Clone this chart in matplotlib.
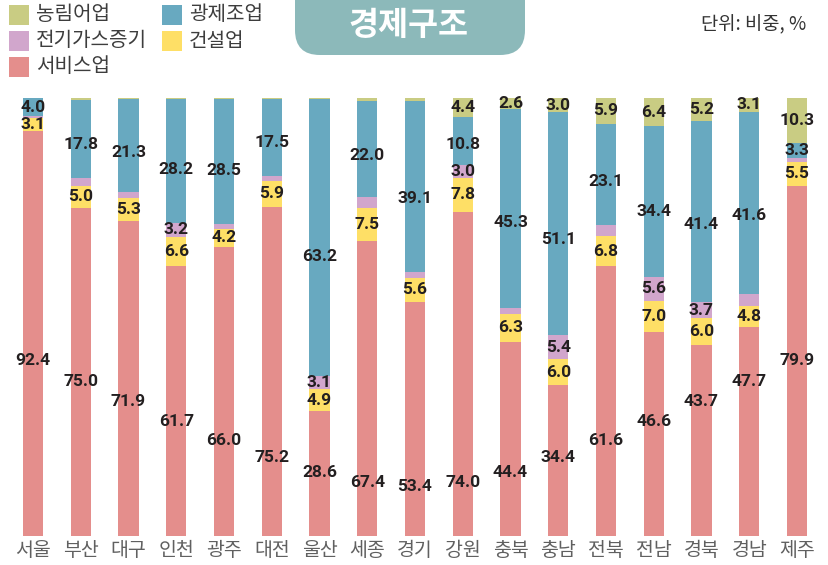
import matplotlib
matplotlib.use("Agg")
import matplotlib.pyplot as plt
from matplotlib.patches import Rectangle, FancyBboxPatch
import numpy as np

# ---------------- data ----------------
regions = ["서울", "부산", "대구", "인천", "광주", "대전", "울산", "세종", "경기",
           "강원", "충북", "충남", "전북", "전남", "경북", "경남", "제주"]
service = [92.4, 75.0, 71.9, 61.7, 66.0, 75.2, 28.6, 67.4, 53.4,
           74.0, 44.4, 34.4, 61.6, 46.6, 43.7, 47.7, 79.9]
construction = [3.1, 5.0, 5.3, 6.6, 4.2, 5.9, 4.9, 7.5, 5.6,
                7.8, 6.3, 6.0, 6.8, 7.0, 6.0, 4.8, 5.5]
utilities = [0.4, 1.8, 1.3, 3.2, 1.1, 1.2, 3.1, 2.5, 1.2,
             3.0, 1.4, 5.4, 2.6, 5.6, 3.7, 2.8, 1.0]
manufacturing = [4.0, 17.8, 21.3, 28.2, 28.5, 17.5, 63.2, 22.0, 39.1,
                 10.8, 45.3, 51.1, 23.1, 34.4, 41.4, 41.6, 3.3]
agriculture = [0.1, 0.4, 0.2, 0.3, 0.2, 0.2, 0.2, 0.6, 0.7,
               4.4, 2.6, 3.0, 5.9, 6.4, 5.2, 3.1, 10.3]
series_names = ["서비스업", "건설업", "전기가스증기", "광제조업", "농림어업"]
title = "경제구조"
unit_text = "단위: 비중, %"

# ---------------- style ----------------
colors = {"서비스업": "#e48e8c", "건설업": "#fedf66", "전기가스증기": "#d1a6cc",
          "광제조업": "#68a9c0", "농림어업": "#c9cc83"}
label_threshold = {"서비스업": 0, "건설업": 0, "전기가스증기": 3.0,
                   "광제조업": 0, "농림어업": 2.0}
KR = ["Noto Sans CJK KR", "DejaVu Sans"]
NUM = ["Roboto", "DejaVu Sans"]
val_color = "#231f20"

W, H = 829, 565
fig = plt.figure(figsize=(W / 100, H / 100), dpi=100)

def fx(px):
    return px / W

def fy(py):
    return 1 - py / H

step_px = 47.75
left_px = 33 - 0.5 * step_px
ax = fig.add_axes([fx(left_px), fy(536), len(regions) * step_px / W, (536 - 98) / H])

x = np.arange(len(regions))
data = [service, construction, utilities, manufacturing, agriculture]
bottom = np.zeros(len(regions))
bw = 0.42
for name, vals in zip(series_names, data):
    vals = np.array(vals)
    ax.bar(x, vals, bottom=bottom, width=bw, color=colors[name], linewidth=0)
    for i, v in enumerate(vals):
        if v < label_threshold[name] or (name != "서비스업" and v <= 0):
            continue
        if name == "서비스업":
            d = abs(i - (len(regions) - 1) / 2)
            a = 13.4
            y = 11.2 - a + np.sqrt(a ** 2 + (5 * d) ** 2)
        elif name == "광제조업" and v > 8:
            y = bottom[i] + 0.43 * v
        else:
            y = bottom[i] + v / 2
        ax.text(i, y, f"{v:.1f}", ha="center", va="center", fontsize=12.5,
                family=NUM, weight="bold", color=val_color)
    bottom += vals

ax.set_xlim(-0.5, len(regions) - 0.5)
ax.set_ylim(0, 100)
for s in ax.spines.values():
    s.set_visible(False)
ax.set_yticks([])
ax.set_xticks(x)
ax.set_xticklabels(regions, family=KR, fontsize=14, color="#606060", weight="medium")
ax.tick_params(axis="x", length=0, pad=3)

# legend (manual)
legend_items = [("농림어업", 9, 15), ("전기가스증기", 9, 41), ("서비스업", 9, 67),
                ("광제조업", 162, 15), ("건설업", 162, 41)]
sq = 20
for name, lx, ly in legend_items:
    fig.patches.append(Rectangle((fx(lx), fy(ly + sq / 2)), sq / W, sq / H,
                                 transform=fig.transFigure, color=colors[name], linewidth=0))
    fig.text(fx(lx + sq + 7), fy(ly), name, family=KR, fontsize=14.5, color="#3d3d3d",
             ha="left", va="center")

# title box
box = FancyBboxPatch((fx(295), fy(55)), (525 - 295) / W, 80 / H,
                     boxstyle="round,pad=0,rounding_size=0.03",
                     transform=fig.transFigure, facecolor="#8cb9ba", edgecolor="none",
                     mutation_aspect=W / H)
fig.patches.append(box)
fig.text(fx(408), fy(26), title, family=KR, fontsize=23.5, weight="bold", color="white",
         ha="center", va="center")

fig.text(fx(806), fy(25), unit_text, family=KR, fontsize=13.5, color="#333333",
         ha="right", va="center")

fig.savefig("out.png", dpi=100)
